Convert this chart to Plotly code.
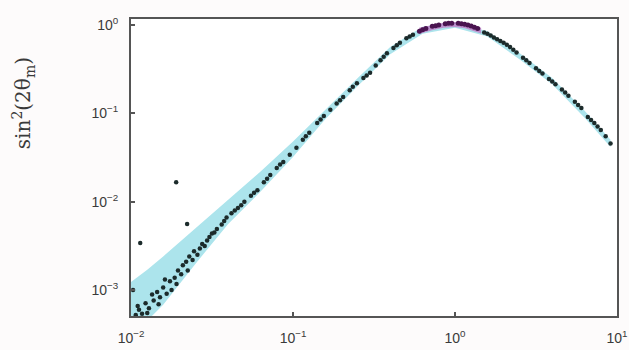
import plotly.graph_objects as go

# Band (cyan) edges
band_x = [0.0095, 0.0126, 0.0158, 0.0251, 0.0398, 0.0631, 0.1, 0.158, 0.251, 0.398, 0.631, 1.0, 1.585, 2.512, 3.981, 6.310, 9.12]
band_hi = [1.15e-3, 1.7e-3, 2.4e-3, 5.0e-3, 1.05e-2, 2.2e-2, 4.8e-2, 0.110, 0.251, 0.562, 0.955, 1.07, 0.851, 0.479, 0.251, 0.107, 0.0501]
band_lo = [3.0e-4, 4.5e-4, 6.8e-4, 2.0e-3, 5.6e-3, 1.30e-2, 3.2e-2, 8.6e-2, 0.204, 0.468, 0.794, 0.933, 0.741, 0.407, 0.214, 0.0891, 0.0417]

# Peak (magenta) band
peak_x = [0.60, 0.72, 0.85, 1.0, 1.15, 1.3, 1.45]
peak_hi = [0.93, 1.0, 1.06, 1.08, 1.05, 1.0, 0.93]
peak_lo = [0.79, 0.87, 0.93, 0.95, 0.92, 0.86, 0.80]

# Scatter points (black)
dots_x = [0.0107, 0.0112, 0.0117, 0.0123, 0.0129, 0.0138, 0.0145, 0.0151, 0.0158, 0.0166,
          0.0174, 0.0186, 0.0195, 0.0204, 0.0219, 0.0229, 0.0245, 0.0257, 0.0275, 0.0295,
          0.0316, 0.0339, 0.0363, 0.0389, 0.0417, 0.0457, 0.0501, 0.0550, 0.0603, 0.0661,
          0.0724, 0.0794, 0.0871, 0.0955, 0.105, 0.115, 0.126, 0.141, 0.155, 0.170,
          0.186, 0.204, 0.224, 0.248, 0.272, 0.299, 0.324, 0.347, 0.380, 0.417,
          0.457, 0.501, 0.550,
          0.0110, 0.0126, 0.0135, 0.0148, 0.0162, 0.0178, 0.0191, 0.0209, 0.0224, 0.0240,
          0.0266, 0.0285, 0.0305, 0.0327, 0.0376, 0.0437, 0.0479, 0.0575, 0.0692, 0.0832,
          0.120, 0.148, 0.195, 0.234, 0.285, 0.363, 0.437, 0.525,
          1.514, 1.660, 1.820, 1.995, 2.188, 2.399, 2.630, 2.884, 3.162, 3.467,
          3.802, 4.169, 4.571, 5.012, 5.495, 6.026, 6.607, 7.244, 7.943, 8.511, 9.120,
          1.585, 1.738, 1.905, 2.089, 2.291, 2.754, 3.311, 3.981, 4.786, 5.754, 6.918, 7.586,
          0.0114, 0.0103, 0.0222, 0.0190]
dots_y = [5.2e-4, 6.0e-4, 5.4e-4, 7.1e-4, 6.2e-4, 7.6e-4, 9.5e-4, 8.3e-4, 1.07e-3, 9.1e-4,
          1.26e-3, 1.38e-3, 1.66e-3, 1.51e-3, 2.09e-3, 2.40e-3, 2.75e-3, 2.51e-3, 3.31e-3, 3.63e-3,
          4.37e-3, 4.90e-3, 5.50e-3, 6.61e-3, 7.41e-3, 8.51e-3, 1.0e-2, 1.17e-2, 1.35e-2, 1.66e-2,
          2.0e-2, 2.40e-2, 2.82e-2, 3.39e-2, 4.07e-2, 5.01e-2, 6.03e-2, 7.76e-2, 9.33e-2, 0.110,
          0.129, 0.153, 0.182, 0.219, 0.251, 0.288, 0.347, 0.398, 0.479, 0.550,
          0.631, 0.708, 0.776,
          6.6e-4, 5.5e-4, 8.9e-4, 6.9e-4, 1.32e-3, 1.0e-3, 1.17e-3, 1.91e-3, 1.66e-3, 2.19e-3,
          2.95e-3, 3.16e-3, 3.98e-3, 4.47e-3, 6.03e-3, 7.94e-3, 9.12e-3, 1.26e-2, 1.82e-2, 2.63e-2,
          0.055, 0.0851, 0.141, 0.200, 0.269, 0.437, 0.589, 0.741,
          0.822, 0.759, 0.692, 0.631, 0.562, 0.490, 0.427, 0.372, 0.324, 0.282,
          0.245, 0.214, 0.186, 0.158, 0.135, 0.115, 0.0912, 0.0776, 0.0646, 0.0550, 0.0457,
          0.794, 0.724, 0.661, 0.596, 0.525, 0.398, 0.302, 0.229, 0.172, 0.124, 0.0841, 0.0708,
          3.4e-3, 1.0e-3, 5.6e-3, 1.66e-2]

# Scatter points near resonance (purple)
pk_x = [0.603, 0.631, 0.661, 0.724, 0.759, 0.794, 0.871, 0.912, 0.955, 1.047, 1.096, 1.148, 1.202, 1.259, 1.318, 1.380]
pk_y = [0.851, 0.881, 0.912, 0.966, 0.982, 1.0, 1.035, 1.047, 1.047, 1.047, 1.035, 1.023, 1.0, 0.977, 0.944, 0.912]

xticks = [0.01, 0.1, 1, 10]
xticklabels = ["10<sup>−2</sup>", "10<sup>−1</sup>", "10<sup>0</sup>", "10<sup>1</sup>"]
yticks = [0.001, 0.01, 0.1, 1]
yticklabels = ["10<sup>−3</sup>", "10<sup>−2</sup>", "10<sup>−1</sup>", "10<sup>0</sup>"]

fig = go.Figure()
fig.add_trace(go.Scatter(x=band_x, y=band_lo, mode="lines", line=dict(width=0, color="#a6e3ea"),
                         hoverinfo="skip", showlegend=False))
fig.add_trace(go.Scatter(x=band_x, y=band_hi, mode="lines", line=dict(width=0, color="#a6e3ea"),
                         fill="tonexty", fillcolor="#ace4ec", hoverinfo="skip", showlegend=False))
fig.add_trace(go.Scatter(x=peak_x, y=peak_lo, mode="lines", line=dict(width=0, color="#c79ad0"),
                         hoverinfo="skip", showlegend=False))
fig.add_trace(go.Scatter(x=peak_x, y=peak_hi, mode="lines", line=dict(width=0, color="#c79ad0"),
                         fill="tonexty", fillcolor="rgba(190,130,200,0.85)", hoverinfo="skip", showlegend=False))
fig.add_trace(go.Scatter(x=dots_x, y=dots_y, mode="markers",
                         marker=dict(size=4.5, color="#1c2b2b", line=dict(width=0)),
                         showlegend=False))
fig.add_trace(go.Scatter(x=pk_x, y=pk_y, mode="markers",
                         marker=dict(size=5, color="#4a1450", line=dict(width=0)),
                         showlegend=False))

axis_common = dict(showline=True, linecolor="#555555", linewidth=2, mirror=True,
                   ticks="inside", ticklen=4, tickcolor="#555555", tickwidth=1.5,
                   showgrid=False, zeroline=False, automargin=False,
                   tickfont=dict(family="Liberation Sans, Arial", size=14, color="#3a3a3a"))

fig.update_xaxes(type="log", range=[-2, 1.0], tickvals=xticks, ticktext=xticklabels,
                 ticklabelstandoff=8, **axis_common)
fig.update_yaxes(type="log", range=[-3.294, 0.068], tickvals=yticks, ticktext=yticklabels,
                 ticklabelstandoff=8, **axis_common)

fig.add_annotation(text="sin<sup>2</sup>(2θ<sub>m</sub>)", textangle=-90, xref="paper", yref="paper",
                   x=-0.222, y=0.717, xanchor="center", yanchor="middle", showarrow=False,
                   font=dict(family="DejaVu Serif", size=20, color="#3a3a3a"))

fig.update_layout(width=629, height=350, margin=dict(l=131, r=12, t=19, b=34),
                  plot_bgcolor="white", paper_bgcolor="#fdfbfb")

fig.write_html("out.html")
